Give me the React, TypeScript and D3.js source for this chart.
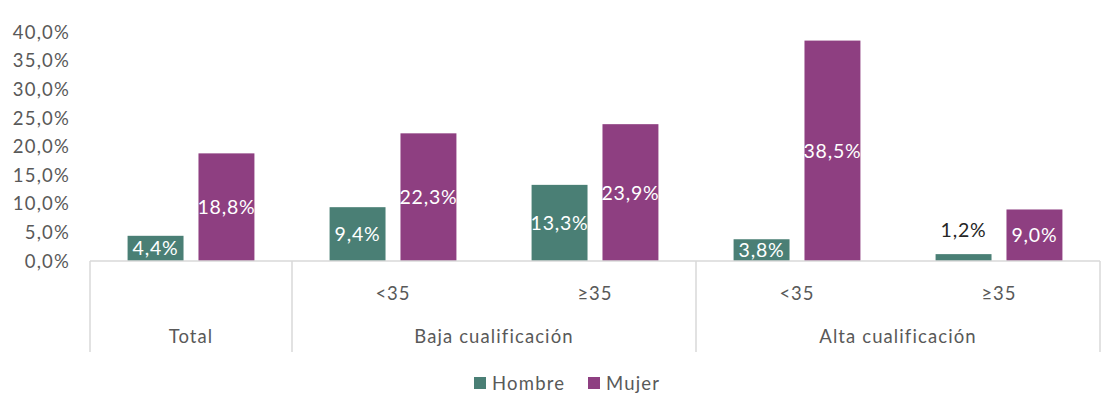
import React from "react";
import * as d3 from "d3";

const categories = ["Total", "<35", "≥35", "<35", "≥35"];
const groups = [
  { label: "Total", start: 0, end: 1 },
  { label: "Baja cualificación", start: 1, end: 3 },
  { label: "Alta cualificación", start: 3, end: 5 },
];
const hombre = [4.4, 9.4, 13.3, 3.8, 1.2];
const mujer = [18.8, 22.3, 23.9, 38.5, 9.0];
const yTicks = [0, 5, 10, 15, 20, 25, 30, 35, 40];
const seriesNames = ["Hombre", "Mujer"];
const colors = ["#4a7f75", "#8e3f81"];

const W = 1114;
const H = 408;
const left = 90;
const right = 1100;
const baseY = 261;
const topY = 32;

const fmt = (v: number) => v.toFixed(1).replace(".", ",") + "%";
const font = "Lato, 'Noto Sans', sans-serif";

export default function App() {
  const x = d3.scaleBand<number>().domain(d3.range(categories.length)).range([left, right]).paddingInner(0).paddingOuter(0);
  const y = d3.scaleLinear().domain([0, 40]).range([baseY, topY]);
  const inner = d3.scaleBand<number>().domain([0, 1]).range([0, x.bandwidth()]).paddingInner(0.211).paddingOuter(0.53);
  const series = [hombre, mujer];
  const bw = inner.bandwidth();

  return (
    <svg width={W} height={H} style={{ position: "absolute", left: 0, top: 0, background: "#fff" }}>
      {yTicks.map((t) => (
        <text key={t} x={70} y={y(t)} dy="0.36em" textAnchor="end" fontFamily={font} fontSize={18.5} fill="#595959" letterSpacing={1.2}>
          {fmt(t)}
        </text>
      ))}
      {series.map((s, si) =>
        s.map((v, ci) => {
          const bx = (x(ci) as number) + (inner(si) as number);
          return <rect key={`${si}-${ci}`} x={bx} y={y(v)} width={bw} height={baseY - y(v)} fill={colors[si]} />;
        })
      )}
      <line x1={left} x2={right} y1={baseY} y2={baseY} stroke="#d9d9d9" strokeWidth={1.5} />
      {[0, 1, 3, 5].map((i) => {
        const xx = i === categories.length ? right : (x(i) as number);
        return <line key={i} x1={xx} x2={xx} y1={baseY} y2={352} stroke="#d9d9d9" strokeWidth={1.5} />;
      })}
      {categories.map((c, ci) =>
        ci === 0 ? null : (
          <text key={ci} x={(x(ci) as number) + x.bandwidth() / 2} y={293} dy="0.36em" textAnchor="middle" fontFamily={font} fontSize={18.5} fill="#595959" letterSpacing={1}>
            {c}
          </text>
        )
      )}
      {groups.map((g) => {
        const x0 = x(g.start) as number;
        const x1 = g.end === categories.length ? right : (x(g.end) as number);
        return (
          <text key={g.label} x={(x0 + x1) / 2} y={336} dy="0.36em" textAnchor="middle" fontFamily={font} fontSize={18.5} fill="#595959" letterSpacing={1.1}>
            {g.label}
          </text>
        );
      })}
      {series.map((s, si) =>
        s.map((v, ci) => {
          const cx = (x(ci) as number) + (inner(si) as number) + bw / 2;
          const h = baseY - y(v);
          const outside = h < 12;
          const ly = outside ? y(v) - 24 : y(v) + h / 2;
          return (
            <text key={`l${si}-${ci}`} x={cx} y={ly} dy="0.36em" textAnchor="middle" fontFamily={font} fontSize={19.5} fill={outside ? "#262626" : "#ffffff"} letterSpacing={0.8}>
              {fmt(v)}
            </text>
          );
        })
      )}
      {seriesNames.map((n, i) => {
        const lx = [474, 588][i];
        return (
          <g key={n}>
            <rect x={lx} y={377} width={12} height={12} fill={colors[i]} />
            <text x={lx + 18} y={383} dy="0.36em" fontFamily={font} fontSize={18.5} fill="#595959" letterSpacing={1.2}>
              {n}
            </text>
          </g>
        );
      })}
    </svg>
  );
}
